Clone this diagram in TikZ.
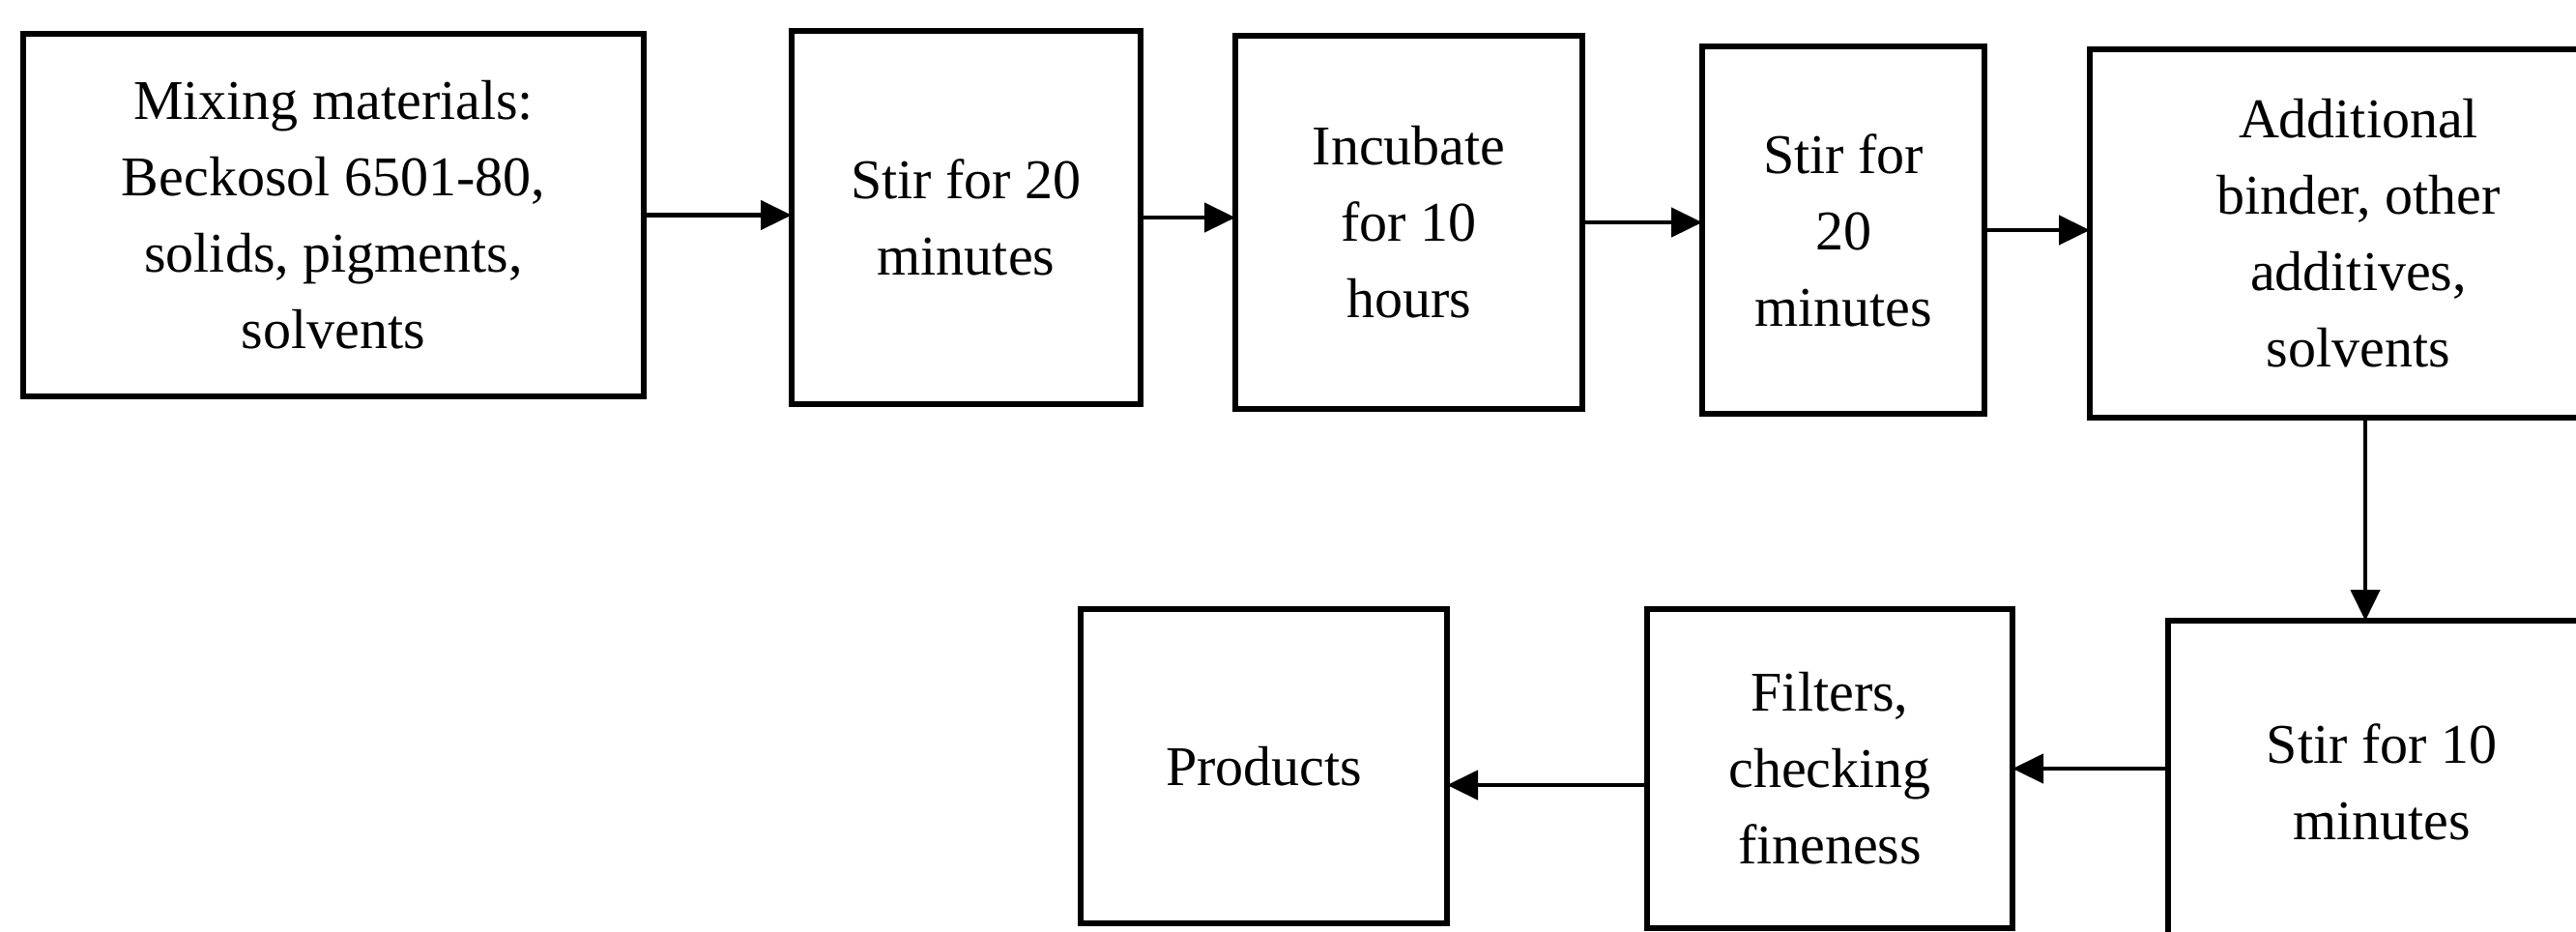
\documentclass[tikz,border=0pt]{standalone}
\usepackage{fontspec}
\setmainfont{Liberation Serif}
\usepackage{tikz}
\usetikzlibrary{arrows.meta, positioning}

\begin{document}
\begin{tikzpicture}[
    >={Triangle[length=0.32cm, width=0.3cm]},
    proc/.style={draw, line width=1.6pt, inner sep=0pt, outer sep=0pt,
                 align=center, font=\fontsize{16.5}{22.5}\selectfont},
    flow/.style={->, line width=1.3pt},
]
  \useasboundingbox[fill=white] (0,0) rectangle (26.65,-9.63);

  % top row
  \node[proc, minimum width=6.42cm, minimum height=3.75cm] (mix) at (3.45,-2.225)
    {Mixing materials:\\Beckosol 6501-80,\\solids, pigments,\\solvents};
  \node[proc, minimum width=3.61cm, minimum height=3.86cm] (stira) at (9.995,-2.25)
    {Stir for 20\\minutes};
  \node[proc, minimum width=3.59cm, minimum height=3.86cm] (incub) at (14.575,-2.30)
    {Incubate\\for 10\\hours};
  \node[proc, minimum width=2.92cm, minimum height=3.80cm] (stirb) at (19.07,-2.38)
    {Stir for\\20\\minutes};
  \node[proc, minimum width=5.56cm, minimum height=3.81cm] (addit) at (24.40,-2.415)
    {Additional\\binder, other\\additives,\\solvents};

  % bottom row
  \node[proc, minimum width=4.42cm, minimum height=3.33cm] (stirc) at (24.64,-8.085)
    {Stir for 10\\minutes};
  \node[proc, minimum width=3.78cm, minimum height=3.30cm] (filt) at (18.93,-7.95)
    {Filters,\\checking\\fineness};
  \node[proc, minimum width=3.79cm, minimum height=3.25cm] (prod) at (13.075,-7.925)
    {Products};

  \draw[flow] (mix.east) -- (mix.east -| stira.west);
  \draw[flow] (stira.east) -- (stira.east -| incub.west);
  \draw[flow] (incub.east) -- (incub.east -| stirb.west);
  \draw[flow] (stirb.east) -- (stirb.east -| addit.west);
  \draw[flow] ([xshift=0.07cm]addit.south) -- ([xshift=0.07cm]addit.south |- stirc.north);
  \draw[flow] (stirc.west |- filt.east) -- (filt.east);
  \draw[flow] ([yshift=-0.17cm]filt.west) -- ([yshift=-0.17cm]filt.west -| prod.east);
\end{tikzpicture}
\end{document}
